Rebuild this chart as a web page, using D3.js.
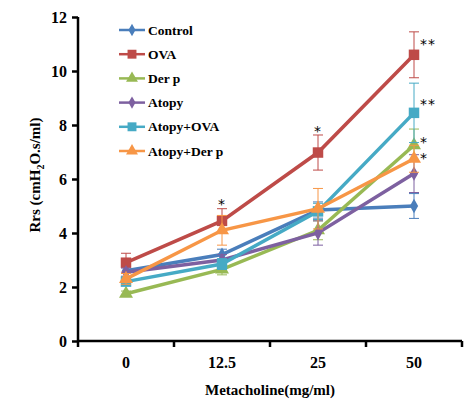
<!DOCTYPE html>
<html><head><meta charset="utf-8">
<script src="https://cdn.jsdelivr.net/npm/d3@7"></script>
<style>body{margin:0;background:#fff}svg{display:block}</style>
</head><body>
<svg id="c" width="469" height="409"></svg>
<script>
const categories = ["0", "12.5", "25", "50"];
const seriesNames = ["Control", "OVA", "Der p", "Atopy", "Atopy+OVA", "Atopy+Der p"];
const control = [2.6, 3.2, 4.85, 5.0];
const controlErr = [0.25, 0.2, 0.3, 0.46];
const ova = [2.9, 4.45, 6.98, 10.6];
const ovaErr = [0.35, 0.45, 0.65, 0.85];
const derp = [1.75, 2.65, 4.1, 7.25];
const derpErr = [0.1, 0.2, 0.35, 0.6];
const atopy = [2.55, 3.0, 4.0, 6.2];
const atopyErr = [0.15, 0.2, 0.45, 0.7];
const atopyOva = [2.2, 2.85, 4.8, 8.45];
const atopyOvaErr = [0.15, 0.2, 0.3, 1.1];
const atopyDerp = [2.3, 4.1, 4.9, 6.75];
const atopyDerpErr = [0.2, 0.55, 0.75, 0.5];
const yTicks = [0, 2, 4, 6, 8, 10, 12];
const stars = [
  {cat: "12.5", y: 5.2, text: "*", side: 0},
  {cat: "25", y: 7.9, text: "*", side: 0},
  {cat: "50", y: 11.1, text: "**", side: 1},
  {cat: "50", y: 8.9, text: "**", side: 1},
  {cat: "50", y: 7.5, text: "*", side: 1},
  {cat: "50", y: 6.9, text: "*", side: 1}
];
const colors = ["#4A7EBB", "#BE4B48", "#98B954", "#7D60A0", "#46AAC5", "#F79646"];
const shapes = ["diamond", "square", "triangle", "diamond", "square", "triangle"];
const values = [control, ova, derp, atopy, atopyOva, atopyDerp];
const errs = [controlErr, ovaErr, derpErr, atopyErr, atopyOvaErr, atopyDerpErr];

const svg = d3.select("#c");
const mLeft = 78, mRight = 462, mTop = 17, mBottom = 341;
const x = d3.scaleBand().domain(categories).range([mLeft, mRight]);
const y = d3.scaleLinear().domain([0, 12]).range([mBottom, mTop]);
const cx = c => x(c) + x.bandwidth() / 2;
const font = "'Liberation Serif', 'Times New Roman', serif";

function symbolPath(shape) {
  if (shape === "diamond") return d3.symbol(d3.symbolDiamond, 60)();
  if (shape === "square") return d3.symbol(d3.symbolSquare, 110)();
  return d3.symbol(d3.symbolTriangle, 85)();
}

// series
values.forEach((vals, i) => {
  const g = svg.append("g");
  vals.forEach((v, j) => {
    const e = errs[i][j], px = cx(categories[j]);
    g.append("line").attr("x1", px).attr("x2", px).attr("y1", y(v + e)).attr("y2", y(v - e))
      .attr("stroke", colors[i]).attr("stroke-width", 1);
    [v + e, v - e].forEach(t => g.append("line").attr("x1", px - 5).attr("x2", px + 5)
      .attr("y1", y(t)).attr("y2", y(t)).attr("stroke", colors[i]).attr("stroke-width", 1));
  });
  g.append("path").datum(vals)
    .attr("d", d3.line().x((d, j) => cx(categories[j])).y(d => y(d)))
    .attr("fill", "none").attr("stroke", colors[i]).attr("stroke-width", 3.5);
  vals.forEach((v, j) => {
    g.append("path").attr("d", symbolPath(shapes[i]))
      .attr("transform", `translate(${cx(categories[j])},${y(v)})`)
      .attr("fill", colors[i]);
  });
});

// axes
const yAxis = svg.append("g").attr("transform", `translate(${mLeft},0)`)
  .call(d3.axisLeft(y).tickValues(yTicks).tickSize(6).tickPadding(5));
const xAxis = svg.append("g").attr("transform", `translate(0,${mBottom})`)
  .call(d3.axisBottom(x).tickSize(0).tickPadding(16));
[yAxis, xAxis].forEach(a => {
  a.select(".domain").attr("stroke", "#000").attr("stroke-width", 2.5);
  a.selectAll(".tick line").attr("stroke", "#000").attr("stroke-width", 2.5);
  a.selectAll("text").attr("font-family", font).attr("font-weight", "bold")
    .attr("font-size", 16).attr("fill", "#000");
});
yAxis.select(".domain").attr("d", `M0,${mTop}V${mBottom}`);
xAxis.select(".domain").attr("d", `M${mLeft},0H${mRight}`);
const bounds = categories.map(c => x(c)).concat([mRight]);
xAxis.selectAll(".bt").data(bounds).enter().append("line")
  .attr("x1", d => d).attr("x2", d => d).attr("y1", 0).attr("y2", 6)
  .attr("stroke", "#000").attr("stroke-width", 2.5);

// axis titles
svg.append("text").attr("x", 270).attr("y", 395).attr("text-anchor", "middle")
  .attr("font-family", font).attr("font-weight", "bold").attr("font-size", 15)
  .text("Metacholine(mg/ml)");
const yt = svg.append("text").attr("transform", "translate(40,175) rotate(-90)")
  .attr("text-anchor", "middle").attr("font-family", font).attr("font-weight", "bold")
  .attr("font-size", 15);
yt.append("tspan").text("Rrs (cmH");
yt.append("tspan").attr("font-size", 10).attr("dy", 4).text("2");
yt.append("tspan").attr("dy", -4).text("O.s/ml)");

// significance stars
svg.selectAll(".star").data(stars).enter().append("text")
  .attr("x", d => cx(d.cat) + (d.side ? 6 : 0))
  .attr("y", d => y(d.y) + 8)
  .attr("text-anchor", d => d.side ? "start" : "middle")
  .attr("font-family", "'DejaVu Sans', sans-serif").attr("font-size", 14).attr("fill", "#000")
  .attr("letter-spacing", 1)
  .text(d => d.text);

// legend
const lg = svg.append("g");
seriesNames.forEach((n, i) => {
  const ly = 30 + i * 24.2;
  lg.append("line").attr("x1", 119).attr("x2", 145).attr("y1", ly).attr("y2", ly)
    .attr("stroke", colors[i]).attr("stroke-width", 2.5);
  lg.append("path").attr("d", symbolPath(shapes[i]))
    .attr("transform", `translate(132,${ly}) scale(0.85)`).attr("fill", colors[i]);
  lg.append("text").attr("x", 148).attr("y", ly + 4.5)
    .attr("font-family", font).attr("font-weight", "bold").attr("font-size", 13.5)
    .text(n);
});
</script>
</body></html>
